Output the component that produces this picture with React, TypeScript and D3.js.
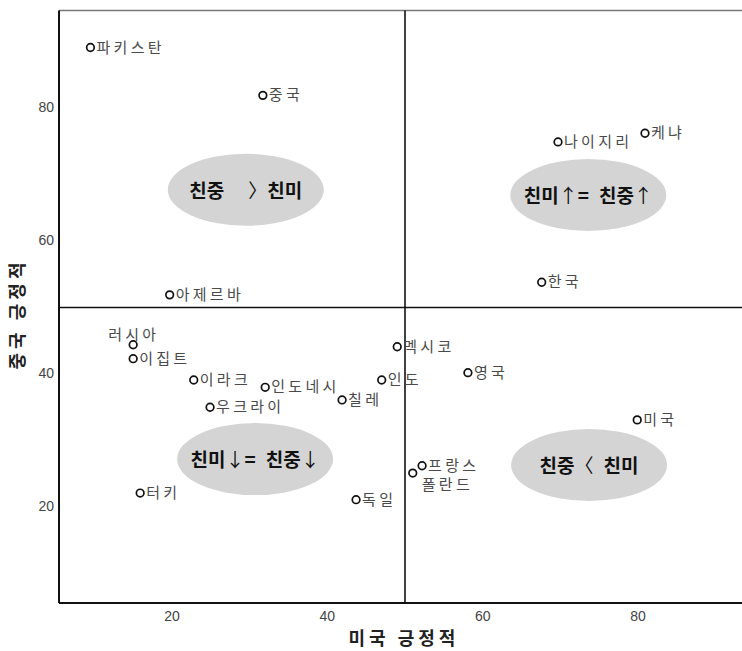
import React from 'react';
import * as d3 from 'd3';

// survey data: share positive toward US (x) and China (y), by country
const countries = [
  '파키스탄', '중국', '나이지리', '케냐', '아제르바', '한국', '러시아', '이집트', '멕시코', '이라크',
  '인도네시', '인도', '영국', '칠레', '우크라이', '미국', '프랑스', '폴란드', '터키', '독일',
];
const usPositive = [9.5, 31.7, 69.7, 80.9, 19.7, 67.6, 15.0, 15.0, 49.0, 22.8, 32.0, 47.0, 58.1, 41.9, 24.9, 79.9, 52.2, 51.0, 15.9, 43.7];
const chinaPositive = [89.1, 81.9, 74.9, 76.2, 51.9, 53.8, 44.4, 42.3, 44.1, 39.1, 38.0, 39.1, 40.2, 36.1, 35.0, 33.1, 26.2, 25.1, 22.1, 21.1];

const xTicks = [20, 40, 60, 80];
const yTicks = [20, 40, 60, 80];
const divider = 50;

// quadrant notes
const noteText = ['친중    〉친미', '친미↑= 친중↑', '친미↓= 친중↓', '친중〈 친미'];
const noteX = [29.5, 73.6, 30.7, 73.7];
const noteY = [67.7, 66.9, 27.2, 26.3];

// labels that are not placed to the right of their marker
const labelOffset: Record<string, [number, number]> = {
  '러시아': [-25, -10],
  '폴란드': [9, 12],
};

const W = 742;
const H = 651;
const frame = {left: 59, right: 750, top: 10.5, bottom: 603};
const korean = "'Noto Sans CJK KR', sans-serif";

// splits a note into styled runs: bold words, thin arrows / brackets
function noteRuns(s: string) {
  const tokens = s.match(/[↑↓〈〉=]| +|[^↑↓〈〉= ]+/g) || [];
  const runs: {t: string; dx: number; bold: boolean}[] = [];
  let pad = 0;
  tokens.forEach((t) => {
    if (t.trim() === '') {
      pad += t.length * (t.length > 1 ? 6 : 10);
      return;
    }
    const thin = t === '↑' || t === '↓' || t === '〉' || t === '〈';
    runs.push({t, dx: pad, bold: !thin});
    pad = 0;
  });
  return runs;
}

export default function App() {
  const x = d3.scaleLinear().domain([20, 80]).range([172, 638]);
  const y = d3.scaleLinear().domain([20, 80]).range([507, 108]);

  const points = countries.map((name, i) => ({name, ux: usPositive[i], cy: chinaPositive[i]}));

  return (
    <svg width={W} height={H} style={{position: 'absolute', left: 0, top: 0, background: '#fff'}}>
      {/* quadrant ellipses */}
      {noteText.map((s, i) => (
        <g key={i} transform={`translate(${x(noteX[i])},${y(noteY[i])})`}>
          <ellipse rx={78} ry={36} fill="#d4d4d4" />
          <text y={3} textAnchor="middle" dominantBaseline="middle" fontFamily={korean} fontSize={19} fill="#111">
            {noteRuns(s).map((r, j) => (
              <tspan key={j} dx={r.dx} fontWeight={r.bold ? 'bold' : 'normal'}>
                {r.t}
              </tspan>
            ))}
          </text>
        </g>
      ))}

      {/* frame */}
      <line x1={frame.left} x2={frame.right} y1={frame.top} y2={frame.top} stroke="#777" strokeWidth={1.5} />
      <line x1={frame.left} x2={frame.left} y1={frame.top} y2={frame.bottom} stroke="#111" strokeWidth={2} />
      <line x1={frame.left} x2={frame.right} y1={frame.bottom} y2={frame.bottom} stroke="#111" strokeWidth={2} />
      <line x1={x(divider)} x2={x(divider)} y1={frame.top} y2={frame.bottom} stroke="#111" strokeWidth={1.6} />
      <line x1={frame.left} x2={frame.right} y1={y(divider)} y2={y(divider)} stroke="#111" strokeWidth={1.6} />

      {/* tick labels */}
      <g fontFamily="'Liberation Sans', Arial, sans-serif" fontSize={14} fill="#444">
        {xTicks.map((t) => (
          <text key={'x' + t} x={x(t)} y={617} textAnchor="middle" dominantBaseline="middle">
            {t}
          </text>
        ))}
        {yTicks.map((t) => (
          <text key={'y' + t} x={54} y={y(t)} textAnchor="end" dominantBaseline="middle">
            {t}
          </text>
        ))}
      </g>

      {/* axis titles */}
      <text
        x={404}
        y={640}
        textAnchor="middle"
        dominantBaseline="middle"
        fontFamily={korean}
        fontWeight="bold"
        fontSize={18}
        letterSpacing={4}
        fill="#222"
      >
        미국 긍정적
      </text>
      <text
        transform="translate(19,314) rotate(-90)"
        textAnchor="middle"
        dominantBaseline="middle"
        fontFamily={korean}
        fontWeight="bold"
        fontSize={18}
        letterSpacing={4}
        fill="#222"
      >
        중국 긍정적
      </text>

      {/* points */}
      {points.map((p) => {
        const [dx, dy] = labelOffset[p.name] ?? [6, 0];
        return (
          <g key={p.name} transform={`translate(${x(p.ux)},${y(p.cy)})`}>
            <circle r={3.8} fill="#fff" stroke="#111" strokeWidth={1.7} />
            <text
              x={dx}
              y={dy + 1}
              dominantBaseline="middle"
              fontFamily={korean}
              fontSize={15}
              letterSpacing={3.3}
              fill="#4a4a4a"
            >
              {p.name}
            </text>
          </g>
        );
      })}
    </svg>
  );
}
